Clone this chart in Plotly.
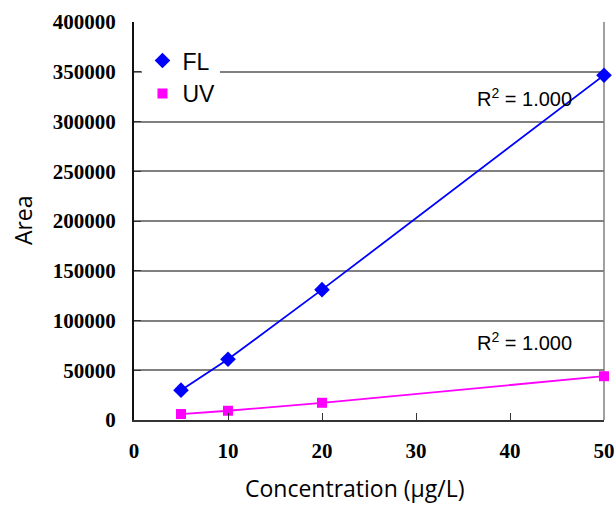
import plotly.graph_objects as go

conc = [5, 10, 20, 50]
fl_area = [30000, 61000, 131000, 346500]
uv_area = [6000, 9300, 17300, 44000]
x_ticks = [0, 10, 20, 30, 40, 50]
y_ticks = [0, 50000, 100000, 150000, 200000, 250000, 300000, 350000, 400000]
r2_labels = ["R<sup>2</sup> = 1.000", "R<sup>2</sup> = 1.000"]
x_title = "Concentration (µg/L)"
y_title = "Area"

SERIF = "Liberation Serif"
SANS = "Liberation Sans"
TITLE = "Open Sans"

fig = go.Figure()
# lines (no legend)
fig.add_trace(go.Scatter(x=conc, y=fl_area, mode="lines", showlegend=False,
                         line=dict(color="#0000FF", width=1.8), hoverinfo="skip"))
fig.add_trace(go.Scatter(x=conc, y=uv_area, mode="lines", showlegend=False,
                         line=dict(color="#FF00FF", width=1.8), hoverinfo="skip"))
# markers (legend)
fig.add_trace(go.Scatter(x=conc, y=fl_area, mode="markers", name="FL",
                         marker=dict(symbol="diamond", size=12, color="#0000FF"),
                         cliponaxis=False))
fig.add_trace(go.Scatter(x=conc, y=uv_area, mode="markers", name="UV",
                         marker=dict(symbol="square", size=10, color="#FF00FF"),
                         cliponaxis=False))

fig.add_annotation(x=41.5, y=324000, text=r2_labels[0], showarrow=False,
                   font=dict(family=SANS, size=20, color="black"))
fig.add_annotation(x=41.5, y=79000, text=r2_labels[1], showarrow=False,
                   font=dict(family=SANS, size=20, color="black"))
# axis titles
fig.add_annotation(xref="paper", yref="paper", x=0.47, y=-0.172,
                   xanchor="center", yanchor="middle", showarrow=False,
                   text=x_title, font=dict(family=TITLE, size=23, color="black"))
fig.add_annotation(xref="paper", yref="paper", x=-0.236, y=0.5025,
                   xanchor="center", yanchor="middle", showarrow=False, textangle=-90,
                   text=y_title, font=dict(family=TITLE, size=23, color="black"))

fig.update_layout(
    width=616, height=505,
    margin=dict(l=134, r=12, t=22, b=85),
    paper_bgcolor="white", plot_bgcolor="white",
    showlegend=True,
    legend=dict(x=0.018, y=0.957, xanchor="left", yanchor="top",
                bgcolor="white", borderwidth=0,
                font=dict(family=SANS, size=23, color="black"),
                tracegroupgap=0, itemwidth=30),
    xaxis=dict(range=[0, 50], tickvals=x_ticks, ticktext=[str(v) for v in x_ticks],
               showgrid=False, zeroline=False, automargin=False,
               showline=True, linecolor="#333333", linewidth=2,
               mirror=False, ticks="inside", ticklen=7, tickcolor="#333333", tickwidth=1,
               tickfont=dict(family=SERIF, size=21, color="black", weight="bold"),
               ticklabelstandoff=11),
    yaxis=dict(range=[0, 400000], tickvals=y_ticks, ticktext=[str(v) for v in y_ticks],
               showgrid=True, gridcolor="#808080", gridwidth=1.5, zeroline=False,
               automargin=False,
               showline=True, linecolor="#111111", linewidth=2,
               ticks="inside", ticklen=7, tickcolor="#333333", tickwidth=1,
               tickfont=dict(family=SERIF, size=21, color="black", weight="bold"),
               ticklabelstandoff=12),
)
fig.add_shape(type="line", xref="paper", yref="paper", x0=1, x1=1, y0=0, y1=1,
              line=dict(color="#808080", width=1.5), layer="below")

fig.write_html(
    "out.html",
    config={"displayModeBar": False},
    post_script=("document.body.style.margin='0';"
                 "document.documentElement.style.overflow='hidden';"
                 "document.body.style.overflow='hidden';"),
)
